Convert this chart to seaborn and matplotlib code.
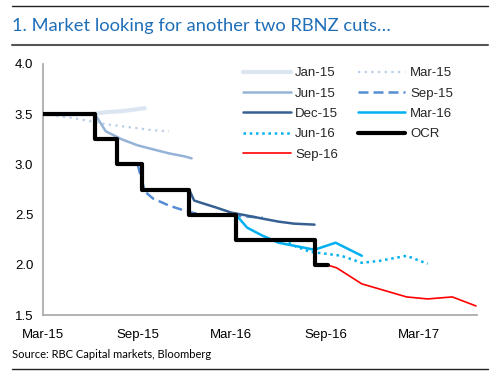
import matplotlib
matplotlib.use("Agg")
import matplotlib.pyplot as plt
import matplotlib.dates as mdates
from matplotlib.lines import Line2D
import seaborn as sns
import pandas as pd

# ---------------- data ----------------
jan15_dates = ["2015-03-01", "2015-04-01", "2015-05-01", "2015-06-01", "2015-07-01", "2015-08-01", "2015-09-15"]
jan15_vals = [3.50, 3.50, 3.50, 3.50, 3.52, 3.53, 3.56]

mar15_dates = ["2015-03-01", "2015-04-01", "2015-05-01", "2015-06-01", "2015-07-01", "2015-08-01",
               "2015-09-01", "2015-10-01", "2015-11-01"]
mar15_vals = [3.50, 3.48, 3.46, 3.43, 3.40, 3.38, 3.36, 3.34, 3.33]

jun15_dates = ["2015-06-10", "2015-07-01", "2015-08-01", "2015-09-01", "2015-10-01", "2015-11-01",
               "2015-12-01", "2015-12-15"]
jun15_vals = [3.50, 3.33, 3.25, 3.19, 3.15, 3.11, 3.08, 3.06]

sep15_dates = ["2015-09-01", "2015-09-15", "2015-10-01", "2015-11-01", "2015-12-01", "2016-01-01",
               "2016-02-01", "2016-03-01", "2016-04-01", "2016-05-01"]
sep15_vals = [3.00, 2.73, 2.66, 2.59, 2.54, 2.50, 2.49, 2.49, 2.48, 2.47]

dec15_dates = ["2015-12-10", "2015-12-20", "2016-01-01", "2016-02-01", "2016-03-01", "2016-04-01",
               "2016-05-01", "2016-06-01", "2016-07-01", "2016-08-10"]
dec15_vals = [2.75, 2.64, 2.62, 2.57, 2.52, 2.49, 2.46, 2.43, 2.41, 2.40]

mar16_dates = ["2016-03-10", "2016-04-01", "2016-05-01", "2016-06-01", "2016-07-01", "2016-08-10",
               "2016-09-20", "2016-11-10"]
mar16_vals = [2.50, 2.37, 2.29, 2.22, 2.19, 2.15, 2.22, 2.09]

jun16_dates = ["2016-06-10", "2016-07-01", "2016-08-01", "2016-09-01", "2016-10-01", "2016-11-10",
               "2016-12-15", "2017-02-05", "2017-03-18"]
jun16_vals = [2.25, 2.19, 2.13, 2.11, 2.09, 2.02, 2.04, 2.09, 2.01]

sep16_dates = ["2016-09-03", "2016-09-22", "2016-11-10", "2017-02-05", "2017-03-18", "2017-05-05", "2017-06-20"]
sep16_vals = [2.00, 1.97, 1.81, 1.68, 1.66, 1.68, 1.59]

ocr_dates = ["2015-03-01", "2015-06-11", "2015-07-23", "2015-09-10", "2015-12-10", "2016-03-10",
             "2016-08-11", "2016-09-05"]
ocr_vals = [3.50, 3.25, 3.00, 2.75, 2.50, 2.25, 2.00, 2.00]

x_ticks = ["2015-03-01", "2015-09-01", "2016-03-01", "2016-09-01", "2017-03-01"]
y_ticks = [1.5, 2.0, 2.5, 3.0, 3.5, 4.0]

title = "1. Market looking for another two RBNZ cuts\u2026"
source = "Source: RBC Capital markets, Bloomberg"

# ---------------- plot ----------------
sns.set_style("white")
plt.rcParams["font.family"] = ["Liberation Sans", "DejaVu Sans"]

fig = plt.figure(figsize=(5.01, 3.76), dpi=100)
ax = fig.add_axes([43 / 501, 1 - 315 / 376, (477 - 43) / 501, (315 - 64) / 376])

series = [
    ("Jan-15", jan15_dates, jan15_vals, dict(color="#DCE6F2", lw=3.0, ls="-")),
    ("Mar-15", mar15_dates, mar15_vals, dict(color="#B9CDE5", lw=1.6, ls=(0, (1, 2)))),
    ("Jun-15", jun15_dates, jun15_vals, dict(color="#95B3D7", lw=1.8, ls="-")),
    ("Sep-15", sep15_dates, sep15_vals, dict(color="#558ED5", lw=1.8, ls=(0, (4, 2)))),
    ("Dec-15", dec15_dates, dec15_vals, dict(color="#376092", lw=1.8, ls="-")),
    ("Mar-16", mar16_dates, mar16_vals, dict(color="#00B0F0", lw=1.8, ls="-")),
    ("Jun-16", jun16_dates, jun16_vals, dict(color="#00B0F0", lw=1.8, ls=(0, (1, 1.5)))),
    ("Sep-16", sep16_dates, sep16_vals, dict(color="#FF0000", lw=1.2, ls="-")),
]

handles = {}
for name, d, v, st in series:
    df = pd.DataFrame({"date": pd.to_datetime(d), "val": v})
    sns.lineplot(data=df, x="date", y="val", ax=ax, color=st["color"], linewidth=st["lw"],
                 linestyle=st["ls"], zorder=2)
    handles[name] = Line2D([], [], color=st["color"], lw=st["lw"], ls=st["ls"])

df_ocr = pd.DataFrame({"date": pd.to_datetime(ocr_dates), "val": ocr_vals})
sns.lineplot(data=df_ocr, x="date", y="val", ax=ax, color="black", linewidth=3.0,
             drawstyle="steps-post", zorder=3)
handles["OCR"] = Line2D([], [], color="black", lw=3.0)

ax.set_xlim(pd.Timestamp("2015-03-01"), pd.Timestamp("2017-06-22"))
ax.set_ylim(1.5, 4.0)
ax.set_xticks(pd.to_datetime(x_ticks))
ax.xaxis.set_major_formatter(mdates.DateFormatter("%b-%y"))
ax.set_yticks(y_ticks)
ax.set_yticklabels([f"{t:.1f}" for t in y_ticks])
ax.set_xlabel("")
ax.set_ylabel("")

for s in ["top", "right"]:
    ax.spines[s].set_visible(False)
for s in ["left", "bottom"]:
    ax.spines[s].set_color("#A6A6A6")
    ax.spines[s].set_linewidth(1.2)
ax.tick_params(axis="both", direction="out", length=4, width=1, color="#A6A6A6",
               labelsize=9.5, labelcolor="#000000", pad=3)
ax.tick_params(axis="x", pad=6)

order = ["Jan-15", "Jun-15", "Dec-15", "Jun-16", "Sep-16", "Mar-15", "Sep-15", "Mar-16", "OCR"]
leg = fig.legend([handles[k] for k in order], order, ncol=2, loc="upper left",
                 bbox_to_anchor=(243 / 501, 1 - 67 / 376), frameon=False, fontsize=9.5,
                 handlelength=3.6, handletextpad=0.35, labelspacing=0.62, columnspacing=1.5,
                 borderpad=0, borderaxespad=0)

# title, rules, source
fig.text(12 / 501, 1 - 26 / 376, title, fontsize=13.2, color="#1F6FB8", va="center", ha="left",
         family=["Lato", "DejaVu Sans"])
fig.add_artist(Line2D([12 / 501, 488 / 501], [1 - 6 / 376, 1 - 6 / 376], color="#222222", lw=1.0))
fig.add_artist(Line2D([12 / 501, 488 / 501], [1 - 45 / 376, 1 - 45 / 376], color="#555555", lw=1.5))
fig.add_artist(Line2D([12 / 501, 488 / 501], [1 - 369 / 376, 1 - 369 / 376], color="#222222", lw=1.0))
fig.text(12 / 501, 1 - 354 / 376, source, fontsize=8.0, color="black", va="center", ha="left",
         family=["Lato", "DejaVu Sans"])

fig.savefig("out.png", dpi=100)
